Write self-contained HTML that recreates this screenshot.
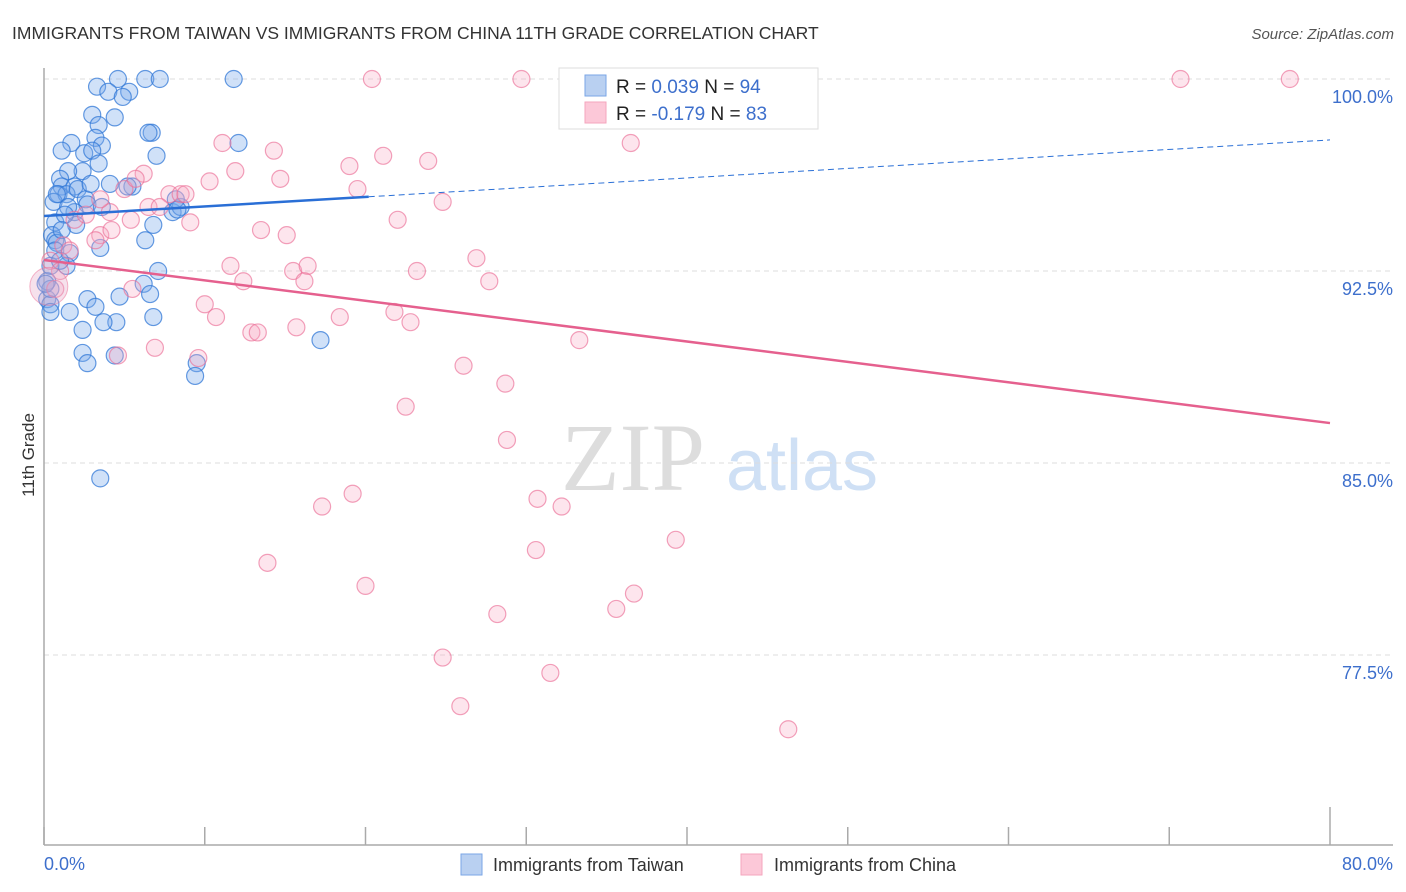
<!DOCTYPE html>
<html><head><meta charset="utf-8"><style>
body{margin:0;background:#fff;font-family:"Liberation Sans",sans-serif;}
#wrap{position:relative;width:1406px;height:892px;overflow:hidden;}
</style></head><body><div id="wrap">
<svg id="svg" width="1406" height="892" xmlns="http://www.w3.org/2000/svg">
<text x="12" y="39" font-size="17.5" fill="#333">IMMIGRANTS FROM TAIWAN VS IMMIGRANTS FROM CHINA 11TH GRADE CORRELATION CHART</text>
<text x="1394" y="39" font-size="15" fill="#555" font-style="italic" text-anchor="end">Source: ZipAtlas.com</text>
<text transform="translate(34,455) rotate(-90)" font-size="17" fill="#333" text-anchor="middle">11th Grade</text>
<g><text x="633" y="490" font-size="96" fill="#ddd" font-family="Liberation Serif,serif" text-anchor="middle">ZIP</text><text x="802" y="490" font-size="72" fill="#cfe0f5" text-anchor="middle">atlas</text></g>
<g id="grid"></g><g id="axes"></g><g id="pts"></g><g id="trend"></g>
<g>
<rect x="559" y="68" width="259" height="61" fill="#fff" stroke="#ddd"/>
<rect x="585" y="75" width="21" height="21" fill="#b9d0f1" stroke="#7aa6e6"/>
<rect x="585" y="102" width="21" height="21" fill="#fcc8d8" stroke="#f4a6be"/>
<text x="616" y="93" font-size="19" fill="#222">R = <tspan fill="#3d6fcc">0.039</tspan>   N = <tspan fill="#3d6fcc">94</tspan></text>
<text x="616" y="120" font-size="19" fill="#222">R = <tspan fill="#3d6fcc">-0.179</tspan>   N = <tspan fill="#3d6fcc">83</tspan></text>
</g>
<g>
<rect x="461" y="854" width="21" height="21" fill="#b9d0f1" stroke="#7aa6e6"/>
<text x="493" y="871" font-size="18" fill="#333">Immigrants from Taiwan</text>
<rect x="741" y="854" width="21" height="21" fill="#fcc8d8" stroke="#f4a6be"/>
<text x="774" y="871" font-size="18" fill="#333">Immigrants from China</text>
</g>
</svg></div>
<script>
const yTicks=[100,92.5,85,77.5];
const yTickLabels=["100.0%","92.5%","85.0%","77.5%"];
const xTicks=[0,10,20,30,40,50,60,70,80];
const blueX=[3.3,4.6,6.3,7.2,11.8,4.0,5.3,4.9,3.0,4.4,3.4,6.7,6.5,3.2,12.1,1.7,1.1,3.6,2.5,3.0,7.0,3.4,2.4,1.5,1.0,1.1,1.9,4.1,5.5,5.2,0.9,1.4,2.1,0.6,2.6,2.7,3.6,8.0,8.5,8.2,1.9,1.5,0.7,2.0,0.5,0.7,6.3,6.8,0.8,0.7,1.6,3.5,1.4,0.4,7.1,6.2,6.6,4.7,2.7,3.2,0.2,0.4,0.4,1.6,4.5,3.7,6.8,2.4,2.4,2.7,4.4,9.5,9.4,17.2,3.5,0.8,1.3,2.9,0.2,0.4,8.3,1.0,1.1,0.1];
const blueY=[99.7,100,100,100,100,99.5,99.5,99.3,98.6,98.5,98.2,97.9,97.9,97.7,97.5,97.5,97.2,97.4,97.1,97.2,97.0,96.7,96.4,96.4,96.1,95.8,95.8,95.9,95.8,95.8,95.5,95.5,95.7,95.2,95.3,95.1,95.0,94.8,95.0,95.3,94.8,95.0,94.4,94.3,93.9,93.7,93.7,94.3,93.6,93.3,93.2,93.4,92.7,92.7,92.5,92.0,91.6,91.5,91.4,91.1,91.4,91.2,90.9,90.9,90.5,90.5,90.7,90.2,89.3,88.9,89.2,88.9,88.4,89.8,84.4,95.5,94.7,95.9,92.1,91.8,94.9,92.9,94.1,92.0];
const pinkX=[20.4,29.7,32.9,70.7,77.5,36.5,11.1,14.3,11.9,19.0,21.1,23.9,6.2,10.3,14.7,19.5,7.8,8.5,8.8,5.0,6.5,7.2,4.1,5.4,9.1,3.5,13.5,15.1,24.8,22.0,1.2,0.4,11.6,15.5,16.4,12.4,16.2,23.2,26.9,27.7,5.5,10.0,10.7,18.4,12.9,13.3,15.7,21.8,22.8,33.3,4.6,6.9,9.6,26.1,28.7,22.5,28.8,19.2,17.3,30.7,32.2,39.3,30.6,13.9,20.0,36.7,35.6,28.2,24.8,31.5,25.9,46.3,3.5,1.9,0.7,1.0,2.6,5.7,4.2,3.2,1.6];
const pinkY=[100,100,100,100,100,97.5,97.5,97.2,96.4,96.6,97.0,96.8,96.3,96.0,96.1,95.7,95.5,95.5,95.5,95.7,95.0,95.0,94.8,94.5,94.4,93.9,94.1,93.9,95.2,94.5,93.5,92.9,92.7,92.5,92.7,92.1,92.1,92.5,93.0,92.1,91.8,91.2,90.7,90.7,90.1,90.1,90.3,90.9,90.5,89.8,89.2,89.5,89.1,88.8,88.1,87.2,85.9,83.8,83.3,83.6,83.3,82.0,81.6,81.1,80.2,79.9,79.3,79.1,77.4,76.8,75.5,74.6,95.3,94.5,91.8,92.5,94.7,96.1,94.1,93.7,93.3];
const blueTrend=[94.65,97.62];
const pinkTrend=[92.93,86.56];
const blueSolidEnd=20.2;
const NS="http://www.w3.org/2000/svg";
function sx(v){return 44+v/80*1286;}
function sy(v){return 79+(100-v)*25.6;}
function mk(tag,attrs,parent){const e=document.createElementNS(NS,tag);for(const k in attrs)e.setAttribute(k,attrs[k]);parent.appendChild(e);return e;}
const grid=document.getElementById('grid'),axes=document.getElementById('axes'),pts=document.getElementById('pts'),trend=document.getElementById('trend');
yTicks.forEach((t,i)=>{
 const l=mk('line',{x1:44,x2:1393,y1:sy(t),y2:sy(t),stroke:'#ddd','stroke-dasharray':'5,4'},grid);
 
 
 const tx=mk('text',{x:1393,y:sy(t)+24,'font-size':18,fill:'#3d6fcc','text-anchor':'end'},grid);
 tx.textContent=yTickLabels[i];
 
 
});
const ya=mk('line',{x1:44,x2:44,y1:68,y2:845,stroke:'#aaa','stroke-width':1.5},axes);


const xa=mk('line',{x1:44,x2:1393,y1:845,y2:845,stroke:'#aaa','stroke-width':1.5},axes);


xTicks.forEach((t,i)=>{
 const tk=mk('line',{x1:sx(t),x2:sx(t),y1:(i==xTicks.length-1?807:827),y2:845,stroke:'#aaa','stroke-width':1.5},axes);
 
 
});
const x0=mk('text',{x:44,y:870,'font-size':18,fill:'#3d6fcc'},axes);x0.textContent=xTicks[0].toFixed(1)+'%';


const x1=mk('text',{x:1393,y:870,'font-size':18,fill:'#3d6fcc','text-anchor':'end'},axes);x1.textContent=xTicks[xTicks.length-1].toFixed(1)+'%';


blueX.forEach((x,i)=>{
 const c=mk('circle',{cx:sx(x),cy:sy(blueY[i]),r:8.5,fill:'rgba(120,170,235,0.35)',stroke:'rgba(50,120,215,0.75)','stroke-width':1.2},pts);
 
 
});
pinkX.forEach((x,i)=>{
 const c=mk('circle',{cx:sx(x),cy:sy(pinkY[i]),r:8.5,fill:'rgba(248,170,195,0.3)',stroke:'rgba(235,110,150,0.65)','stroke-width':1.2},pts);
 
 
});
const big=mk('circle',{cx:sx(0.3),cy:sy(91.9),r:19,fill:'rgba(230,170,200,0.35)',stroke:'rgba(235,110,150,0.5)'},pts);


function ty(tr,x){return tr[0]+(tr[1]-tr[0])*x/80;}
const b1=mk('line',{x1:sx(0),y1:sy(ty(blueTrend,0)),x2:sx(blueSolidEnd),y2:sy(ty(blueTrend,blueSolidEnd)),stroke:'#2a6fd6','stroke-width':2.5},trend);


const b2=mk('line',{x1:sx(blueSolidEnd),y1:sy(ty(blueTrend,blueSolidEnd)),x2:sx(80),y2:sy(ty(blueTrend,80)),stroke:'#2a6fd6','stroke-width':1,'stroke-dasharray':'6,4'},trend);


const p1=mk('line',{x1:sx(0),y1:sy(ty(pinkTrend,0)),x2:sx(80),y2:sy(ty(pinkTrend,80)),stroke:'#e5608e','stroke-width':2.5},trend);


</script></body></html>
